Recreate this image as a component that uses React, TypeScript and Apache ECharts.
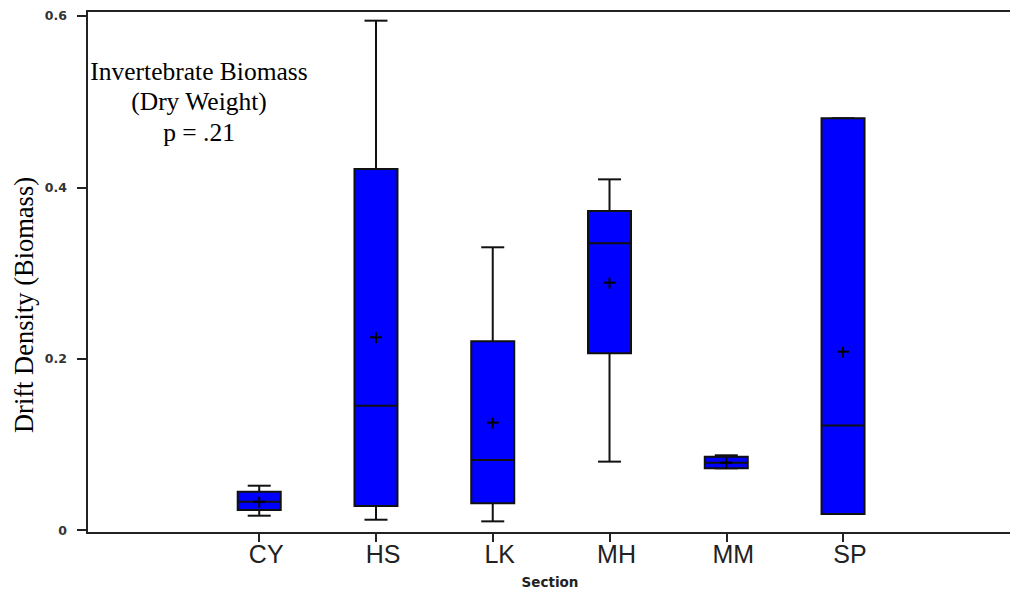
import React, { useEffect, useRef } from "react";
import * as echarts from "echarts";

const categories = ["CY", "HS", "LK", "MH", "MM", "SP"];
const mins = [0.0167, 0.012, 0.0101, 0.0798, 0.072, 0.0187];
const q1s = [0.0233, 0.028, 0.0311, 0.2063, 0.072, 0.0187];
const medians = [0.033, 0.1451, 0.0817, 0.3347, 0.0786, 0.122];
const q3s = [0.0447, 0.4214, 0.2203, 0.3724, 0.0856, 0.4806];
const maxs = [0.0517, 0.5945, 0.33, 0.4093, 0.0872, 0.4806];
const means = [0.033, 0.2249, 0.1253, 0.2887, 0.0786, 0.2081];
const yTicks = [0, 0.2, 0.4, 0.6];
const xTicks = [1, 2, 3, 4, 5, 6];

const annotationLines = ["Invertebrate Biomass", "(Dry Weight)", "p = .21"];
const yTitle = "Drift Density (Biomass)";
const xTitle = "Section";

export default function App() {
  const ref = useRef<HTMLDivElement>(null);
  useEffect(() => {
    if (!ref.current) return;
    const chart = echarts.init(ref.current, undefined, { renderer: "svg" });
    const rows = categories.map((_, i) => [
      i + 1,
      mins[i],
      q1s[i],
      medians[i],
      q3s[i],
      maxs[i],
      means[i],
    ]);
    const lineColor = "#111";
    const axisColor = "#222";
    const option: any = {
      animation: false,
      backgroundColor: "#ffffff",
      grid: { left: 87, right: 0, top: 11, bottom: 57, containLabel: false },
      xAxis: [
        {
          type: "value",
          min: -0.475,
          max: 7.43,
          position: "bottom",
          splitLine: { show: false },
          axisLine: { show: true, onZero: false, lineStyle: { color: axisColor, width: 2 } },
          axisTick: {
            show: true,
            length: 9,
            customValues: xTicks,
            lineStyle: { color: axisColor, width: 2 },
          },
          axisLabel: {
            show: true,
            customValues: xTicks,
            formatter: (v: number) => categories[Math.round(v) - 1] ?? "",
            fontFamily: "Liberation Sans",
            fontSize: 25,
            color: "#222",
            margin: 8,
            padding: [0, 0, 0, 14],
          },
        },
        {
          type: "value",
          min: -0.475,
          max: 7.43,
          position: "top",
          splitLine: { show: false },
          axisLine: { show: true, onZero: false, lineStyle: { color: axisColor, width: 2 } },
          axisTick: { show: false },
          axisLabel: { show: false },
        },
      ],
      yAxis: {
        type: "value",
        min: -0.0035,
        max: 0.6058,
        splitLine: { show: false },
        axisLine: { show: true, onZero: false, lineStyle: { color: axisColor, width: 2 } },
        axisTick: {
          show: true,
          length: 10,
          customValues: yTicks,
          lineStyle: { color: axisColor, width: 2 },
        },
        axisLabel: {
          show: true,
          customValues: yTicks,
          formatter: (v: number) => (v === 0 ? "0" : v.toFixed(1)),
          fontFamily: "DejaVu Sans",
          fontWeight: "bold",
          fontSize: 12.5,
          color: "#333",
          margin: 20,
        },
      },
      graphic: [
        {
          type: "text",
          x: 199,
          y: 101.5,
          style: {
            text: annotationLines.join("\n"),
            font: "25.5px 'Liberation Serif'",
            fill: "#000",
            align: "center",
            verticalAlign: "middle",
            lineHeight: 30.5,
          },
        },
        {
          type: "text",
          x: 23.5,
          y: 305,
          rotation: Math.PI / 2,
          style: {
            text: yTitle,
            font: "26.5px 'Liberation Serif'",
            fill: "#000",
            align: "center",
            verticalAlign: "middle",
          },
        },
        {
          type: "text",
          x: 550,
          y: 582,
          style: {
            text: xTitle,
            font: "bold 13.5px 'DejaVu Sans'",
            fill: "#222",
            align: "center",
            verticalAlign: "middle",
          },
        },
      ],
      series: [
        {
          type: "custom",
          xAxisIndex: 0,
          yAxisIndex: 0,
          data: rows,
          encode: { x: 0, y: [1, 2, 3, 4, 5, 6] },
          renderItem: (params: any, api: any) => {
            const x = api.value(0);
            const pMin = api.coord([x, api.value(1)]);
            const pQ1 = api.coord([x, api.value(2)]);
            const pMed = api.coord([x, api.value(3)]);
            const pQ3 = api.coord([x, api.value(4)]);
            const pMax = api.coord([x, api.value(5)]);
            const pMean = api.coord([x, api.value(6)]);
            const cx = pMed[0];
            const half = 21.5;
            const cap = 11.5;
            const ls = { stroke: lineColor, lineWidth: 2 };
            return {
              type: "group",
              children: [
                { type: "line", shape: { x1: cx, y1: pMax[1], x2: cx, y2: pQ3[1] }, style: ls },
                { type: "line", shape: { x1: cx, y1: pQ1[1], x2: cx, y2: pMin[1] }, style: ls },
                { type: "line", shape: { x1: cx - cap, y1: pMax[1], x2: cx + cap, y2: pMax[1] }, style: ls },
                { type: "line", shape: { x1: cx - cap, y1: pMin[1], x2: cx + cap, y2: pMin[1] }, style: ls },
                {
                  type: "rect",
                  shape: { x: cx - half, y: pQ3[1], width: half * 2, height: pQ1[1] - pQ3[1] },
                  style: { fill: "#0000ff", stroke: lineColor, lineWidth: 2 },
                },
                { type: "line", shape: { x1: cx - half, y1: pMed[1], x2: cx + half, y2: pMed[1] }, style: ls },
                { type: "line", shape: { x1: cx - 6, y1: pMean[1], x2: cx + 6, y2: pMean[1] }, style: { stroke: "#000", lineWidth: 2 } },
                { type: "line", shape: { x1: cx, y1: pMean[1] - 5, x2: cx, y2: pMean[1] + 6 }, style: { stroke: "#000", lineWidth: 2 } },
              ],
            };
          },
        },
      ],
    };
    chart.setOption(option);
    return () => chart.dispose();
  }, []);
  return (
    <div
      ref={ref}
      style={{ position: "fixed", left: 0, top: 0, width: 1010, height: 590, background: "#fff" }}
    />
  );
}
